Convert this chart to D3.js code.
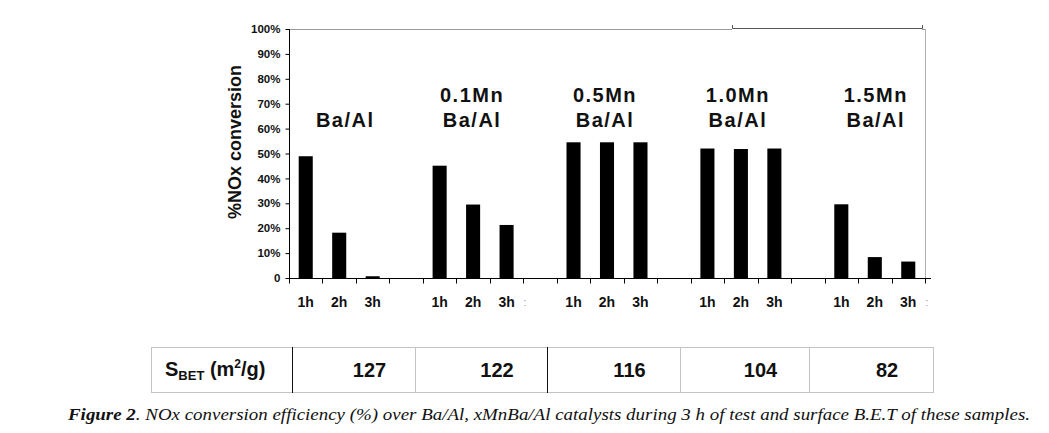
<!DOCTYPE html>
<html>
<head>
<meta charset="utf-8">
<script src="https://cdn.jsdelivr.net/npm/d3@7"></script>
<style>
  html, body { margin: 0; padding: 0; background: #fff; }
  svg { display: block; }
</style>
</head>
<body>
<svg id="chart" width="1049" height="433"></svg>
<script>
// ---------- data ----------
const groupLine1 = ["", "0.1Mn", "0.5Mn", "1.0Mn", "1.5Mn"];
const groupLine2 = ["Ba/Al", "Ba/Al", "Ba/Al", "Ba/Al", "Ba/Al"];
const hours = ["1h", "2h", "3h"];
const baAl   = [48.9, 18.2, 0.7];
const mn01   = [45.1, 29.5, 21.3];
const mn05   = [54.5, 54.5, 54.5];
const mn10   = [52.0, 51.8, 52.0];
const mn15   = [29.6, 8.4, 6.6];
const seriesValues = [baAl, mn01, mn05, mn10, mn15];
const yTickValues = [0, 10, 20, 30, 40, 50, 60, 70, 80, 90, 100];
const yTickLabels = ["0", "10%", "20%", "30%", "40%", "50%", "60%", "70%", "80%", "90%", "100%"];
const sbetValues = [127, 122, 116, 104, 82];
const caption = "NOx conversion efficiency (%) over Ba/Al, xMnBa/Al catalysts during 3 h of test and surface B.E.T of these samples.";

// build category list: 3 hours per group, blank slot between groups
const cats = [];
const bars = [];
seriesValues.forEach((vals, gi) => {
  hours.forEach((h, hi) => {
    const id = "g" + gi + "_" + h;
    cats.push(id);
    bars.push({ id, g: gi, h, v: vals[hi] });
  });
  if (gi < seriesValues.length - 1) cats.push("gap" + gi);
});

// ---------- layout ----------
const svg = d3.select("#chart");
const FONT = "'Liberation Sans', Arial, Helvetica, sans-serif";
const x0 = 289, x1 = 925, yTop = 29, yBot = 278;

const x = d3.scaleBand().domain(cats).range([x0, x1]).paddingInner(0).paddingOuter(0);
const y = d3.scaleLinear().domain([0, 100]).range([yBot, yTop]);
const bw = x.bandwidth() * 0.42;

// frame: top gray border, right gray border
svg.append("line").attr("x1", x0).attr("x2", 732).attr("y1", yTop + 0.5).attr("y2", yTop + 0.5)
  .attr("stroke", "#9a9a9a").attr("stroke-width", 1);
svg.append("line").attr("x1", 922).attr("x2", x1 + 0.5).attr("y1", yTop + 0.5).attr("y2", yTop + 0.5)
  .attr("stroke", "#9a9a9a").attr("stroke-width", 1);
svg.append("line").attr("x1", x1 + 0.5).attr("x2", x1 + 0.5).attr("y1", yTop).attr("y2", yBot)
  .attr("stroke", "#b0b0b0").attr("stroke-width", 1);
// small dark bracket line at top right
svg.append("path")
  .attr("d", `M732.5,25 V28.5 H922.5 V25`)
  .attr("fill", "none").attr("stroke", "#555").attr("stroke-width", 1);

// bars
svg.append("g").selectAll("rect").data(bars).join("rect")
  .attr("x", d => x(d.id) + (x.bandwidth() - bw) / 2)
  .attr("width", bw)
  .attr("y", d => y(d.v))
  .attr("height", d => y(0) - y(d.v))
  .attr("fill", "#000");

// y axis
const yAxis = d3.axisLeft(y).tickValues(yTickValues)
  .tickFormat((d, i) => yTickLabels[i]).tickSize(4).tickSizeOuter(0).tickPadding(5);
const gy = svg.append("g").attr("transform", `translate(${x0 + 0.5},0)`).call(yAxis);
gy.select(".domain").attr("stroke", "#000").attr("d", `M0,${yTop}V${yBot}`);
gy.selectAll(".tick line").attr("stroke", "#000");
gy.selectAll(".tick text").attr("font-family", FONT).attr("font-weight", "bold")
  .attr("font-size", "11.5px").attr("fill", "#111");

// x axis: line with ticks at every band boundary
const boundaries = cats.map(c => x(c)).concat([x1]);
const gx = svg.append("g").attr("transform", `translate(0,${yBot + 0.5})`);
gx.append("line").attr("x1", x0).attr("x2", x1 + 6).attr("y1", 0).attr("y2", 0)
  .attr("stroke", "#000").attr("stroke-width", 1);
gx.selectAll("line.tk").data(boundaries).join("line").attr("class", "tk")
  .attr("x1", d => Math.round(d) + 0.5).attr("x2", d => Math.round(d) + 0.5)
  .attr("y1", 0).attr("y2", 5).attr("stroke", "#000");

// x tick labels
svg.append("g").selectAll("text").data(bars).join("text")
  .attr("x", d => x(d.id) + x.bandwidth() / 2)
  .attr("y", 307)
  .attr("text-anchor", "middle")
  .attr("font-family", FONT).attr("font-weight", "bold").attr("font-size", "14px")
  .attr("fill", "#111")
  .text(d => d.h);

// stray colon marks after some "3h" labels
svg.append("g").selectAll("text").data(bars.filter(d => d.h === "3h" && (d.g === 1 || d.g === 4))).join("text")
  .attr("x", d => x(d.id) + x.bandwidth() / 2 + 17)
  .attr("y", 306)
  .attr("font-family", FONT).attr("font-size", "11px").attr("fill", "#999")
  .text(":");

// group labels
const labelNudge = [6, -1, -2, -3, 1];
const gl = svg.append("g");
seriesValues.forEach((vals, gi) => {
  const cx = x("g" + gi + "_2h") + x.bandwidth() / 2 + labelNudge[gi];
  if (groupLine1[gi]) {
    gl.append("text").attr("x", cx).attr("y", 102).attr("text-anchor", "middle")
      .attr("font-family", FONT).attr("font-weight", "bold").attr("font-size", "20px")
      .attr("letter-spacing", "1.5px").attr("fill", "#111").text(groupLine1[gi]);
  }
  gl.append("text").attr("x", cx).attr("y", 127).attr("text-anchor", "middle")
    .attr("font-family", FONT).attr("font-weight", "bold").attr("font-size", "20px")
    .attr("letter-spacing", "1.5px").attr("fill", "#111").text(groupLine2[gi]);
});

// y axis title
svg.append("text")
  .attr("transform", "translate(241,142) rotate(-90)")
  .attr("text-anchor", "middle")
  .attr("font-family", FONT).attr("font-weight", "bold").attr("font-size", "18px")
  .attr("fill", "#111")
  .text("%NOx conversion");

// ---------- S_BET table ----------
const tTop = 347, tBot = 392, tLeft = 151, tRight = 933;
const colEdges = [tLeft, 292, 415, 547, 680, 809, tRight];
const darkEdges = [292, 547];
const tg = svg.append("g");
tg.append("rect").attr("x", tLeft + 0.5).attr("y", tTop + 0.5)
  .attr("width", tRight - tLeft).attr("height", tBot - tTop)
  .attr("fill", "none").attr("stroke", "#c4c4c4");
colEdges.slice(1, -1).forEach(e => {
  tg.append("line").attr("x1", e + 0.5).attr("x2", e + 0.5).attr("y1", tTop).attr("y2", tBot + 1)
    .attr("stroke", darkEdges.includes(e) ? "#111" : "#c4c4c4");
});
const hdr = tg.append("text").attr("x", 165).attr("y", 376)
  .attr("font-family", FONT).attr("font-weight", "bold").attr("font-size", "20px").attr("fill", "#111");
hdr.append("tspan").text("S");
hdr.append("tspan").attr("font-size", "13px").attr("dy", 4).text("BET");
hdr.append("tspan").attr("dy", -4).text(" (m");
hdr.append("tspan").attr("font-size", "12px").attr("dy", -8).text("2");
hdr.append("tspan").attr("dy", 8).text("/g)");

tg.selectAll("text.val").data(sbetValues).join("text").attr("class", "val")
  .attr("x", (d, i) => (colEdges[i + 1] + colEdges[i + 2]) / 2 + 16)
  .attr("y", 377)
  .attr("text-anchor", "middle")
  .attr("font-family", FONT).attr("font-weight", "bold").attr("font-size", "20px")
  .attr("fill", "#111")
  .text(d => d);

// ---------- caption ----------
const cap = svg.append("text").attr("x", 68).attr("y", 420)
  .attr("font-family", "'Liberation Serif', 'Times New Roman', serif")
  .attr("font-style", "italic").attr("font-size", "16.5px").attr("fill", "#111");
cap.append("tspan").attr("font-weight", "bold").text("Figure 2");
cap.append("tspan").text(". " + caption);
cap.attr("textLength", 1030 - 68).attr("lengthAdjust", "spacingAndGlyphs");
</script>
</body>
</html>
